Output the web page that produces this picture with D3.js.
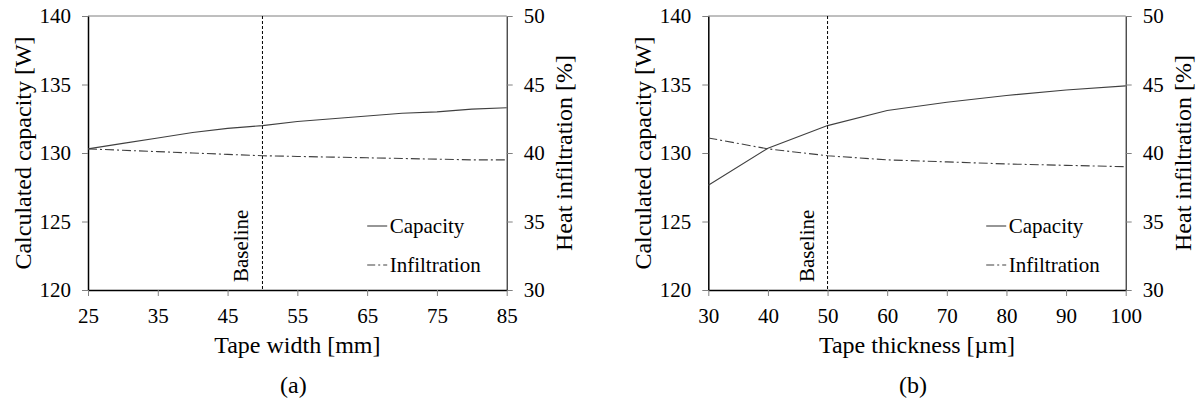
<!DOCTYPE html>
<html>
<head>
<meta charset="utf-8">
<script src="https://cdn.jsdelivr.net/npm/d3@7"></script>
<style>
  html, body { margin: 0; padding: 0; background: #fff; }
  svg { display: block; }
  svg text { font-family: "Liberation Serif", "Times New Roman", serif !important; }
</style>
</head>
<body>
<svg id="chart" width="1201" height="401"></svg>
<script>
// ---- Data ----
const tapeWidth = [25, 30, 35, 40, 45, 50, 55, 60, 65, 70, 75, 80, 85];
const capacityA = [130.3, 130.7, 131.1, 131.5, 131.8, 132.0, 132.3, 132.5, 132.7, 132.9, 133.0, 133.2, 133.3];
const infiltrationA = [40.3, 40.2, 40.1, 40.0, 39.9, 39.8, 39.75, 39.7, 39.65, 39.6, 39.55, 39.5, 39.5];

const tapeThickness = [30, 40, 50, 60, 70, 80, 90, 100];
const capacityB = [127.65, 130.35, 132.0, 133.1, 133.7, 134.2, 134.6, 134.9];
const infiltrationB = [41.1, 40.3, 39.8, 39.5, 39.35, 39.2, 39.1, 39.0];

const xTicksA = [25, 35, 45, 55, 65, 75, 85];
const xTicksB = [30, 40, 50, 60, 70, 80, 90, 100];
const capTicks = [120, 125, 130, 135, 140];
const infTicks = [30, 35, 40, 45, 50];

const baselineA = 50;
const baselineB = 50;

const svg = d3.select("#chart");
const plotTop = 16, plotBottom = 290;

function panel(opts) {
  const g = svg.append("g");
  const x = d3.scaleLinear().domain(opts.xDomain).range([opts.left, opts.right]);
  const yL = d3.scaleLinear().domain([120, 140]).range([plotBottom, plotTop]);
  const yR = d3.scaleLinear().domain([30, 50]).range([plotBottom, plotTop]);

  // top border
  g.append("line").attr("x1", opts.left).attr("x2", opts.right)
    .attr("y1", plotTop).attr("y2", plotTop)
    .attr("stroke", "#7f7f7f").attr("stroke-width", 1);

  // axes
  const axL = g.append("g").attr("transform", `translate(${opts.left},0)`)
    .call(d3.axisLeft(yL).tickValues(capTicks).tickSize(6).tickSizeOuter(0).tickPadding(11));
  const axR = g.append("g").attr("transform", `translate(${opts.right},0)`)
    .call(d3.axisRight(yR).tickValues(infTicks).tickSize(6).tickSizeOuter(0).tickPadding(11));
  const axB = g.append("g").attr("transform", `translate(0,${plotBottom})`)
    .call(d3.axisBottom(x).tickValues(opts.xTicks).tickSize(6).tickSizeOuter(0).tickPadding(12));

  [axL, axR, axB].forEach(a => {
    a.attr("font-family", null);
    a.selectAll("text").attr("font-size", 21).attr("fill", "#000");
    a.selectAll(".tick line").attr("stroke", "#808080");
    a.select(".domain").attr("stroke", "#000");
  });
  axL.select(".domain").attr("stroke-width", 1.5);
  axB.select(".domain").attr("stroke-width", 1.5);
  axR.select(".domain").attr("stroke-width", 1);

  // baseline marker
  const bx = x(opts.baseline);
  g.append("line").attr("x1", bx).attr("x2", bx).attr("y1", plotTop).attr("y2", plotBottom)
    .attr("stroke", "#000").attr("stroke-width", 1).attr("stroke-dasharray", "3,2");
  g.append("text")
    .attr("transform", `translate(${bx - 14},${282}) rotate(-90)`)
    .attr("text-anchor", "start").attr("font-size", 21).attr("fill", "#000")
    .text("Baseline");

  // lines
  const capLine = d3.line().x((d, i) => x(opts.xs[i])).y(d => yL(d));
  const infLine = d3.line().x((d, i) => x(opts.xs[i])).y(d => yR(d));
  g.append("path").datum(opts.cap).attr("d", capLine)
    .attr("fill", "none").attr("stroke", "#404040").attr("stroke-width", 1.1);
  g.append("path").datum(opts.inf).attr("d", infLine)
    .attr("fill", "none").attr("stroke", "#404040").attr("stroke-width", 1.1)
    .attr("stroke-dasharray", "9,3,2,3");

  // axis titles
  const cx = (opts.left + opts.right) / 2;
  g.append("text").attr("transform", `translate(${opts.left - 57},${(plotTop + plotBottom) / 2}) rotate(-90)`)
    .attr("text-anchor", "middle").attr("font-size", 24).attr("fill", "#000")
    .text("Calculated capacity [W]");
  g.append("text").attr("transform", `translate(${opts.right + 65},${(plotTop + plotBottom) / 2}) rotate(-90)`)
    .attr("text-anchor", "middle").attr("font-size", 24).attr("fill", "#000")
    .text("Heat infiltration [%]");
  g.append("text").attr("x", cx).attr("y", 353)
    .attr("text-anchor", "middle").attr("font-size", 24).attr("fill", "#000")
    .text(opts.xTitle);
  g.append("text").attr("x", cx - 4).attr("y", 393)
    .attr("text-anchor", "middle").attr("font-size", 24).attr("fill", "#000")
    .text(opts.label);

  // legend
  const lx0 = opts.right - 139.5, lx1 = opts.right - 119.5, tx = opts.right - 117;
  g.append("line").attr("x1", lx0).attr("x2", lx1).attr("y1", 226).attr("y2", 226)
    .attr("stroke", "#404040").attr("stroke-width", 1.1);
  g.append("text").attr("x", tx).attr("y", 233).attr("font-size", 21).attr("fill", "#000").text("Capacity");
  g.append("line").attr("x1", lx0).attr("x2", lx1).attr("y1", 265).attr("y2", 265)
    .attr("stroke", "#404040").attr("stroke-width", 1.1).attr("stroke-dasharray", "8,3,2,3");
  g.append("text").attr("x", tx).attr("y", 272).attr("font-size", 21).attr("fill", "#000").text("Infiltration");
}

panel({ left: 88, right: 506.7, xDomain: [25, 85], xTicks: xTicksA, xs: tapeWidth,
        cap: capacityA, inf: infiltrationA, baseline: baselineA,
        xTitle: "Tape width [mm]", label: "(a)" });
panel({ left: 708.3, right: 1125.7, xDomain: [30, 100], xTicks: xTicksB, xs: tapeThickness,
        cap: capacityB, inf: infiltrationB, baseline: baselineB,
        xTitle: "Tape thickness [\u00B5m]", label: "(b)" });
</script>
</body>
</html>
